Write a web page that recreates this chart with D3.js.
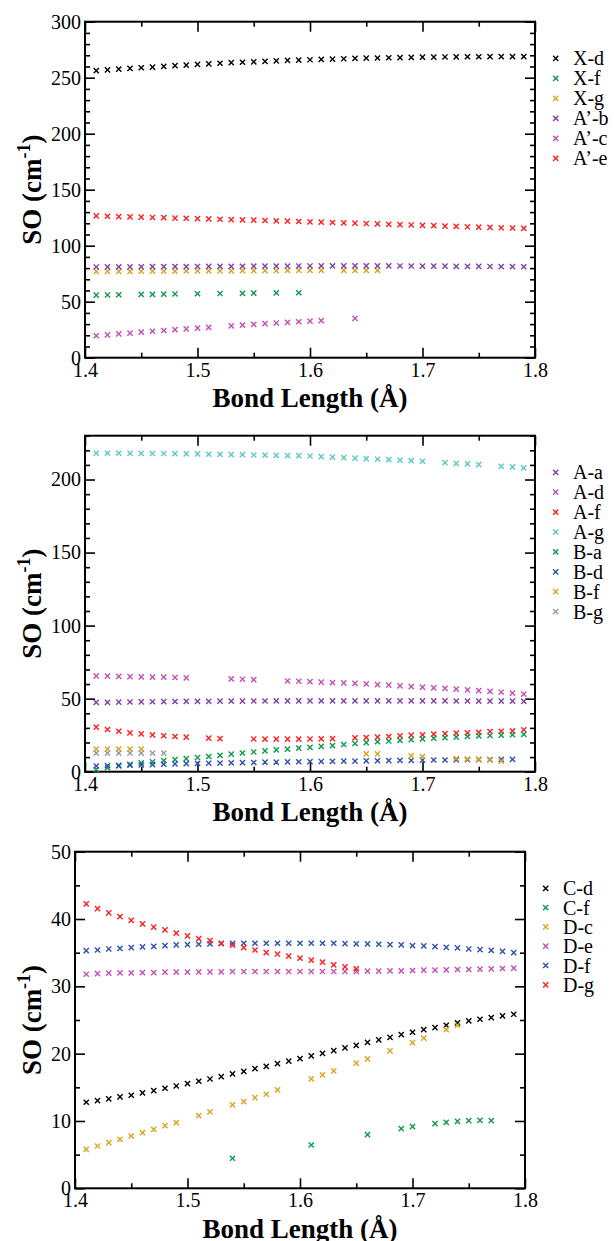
<!DOCTYPE html>
<html>
<head>
<meta charset="utf-8">
<script src="https://cdn.jsdelivr.net/npm/d3@7"></script>
<style>
  html, body { margin: 0; padding: 0; background: #fff; }
  svg { display: block; }
</style>
</head>
<body>
<script>
// ---------------- DATA ----------------
const bondLength = [1.41,1.42,1.43,1.44,1.45,1.46,1.47,1.48,1.49,1.50,
                    1.51,1.52,1.53,1.54,1.55,1.56,1.57,1.58,1.59,1.60,
                    1.61,1.62,1.63,1.64,1.65,1.66,1.67,1.68,1.69,1.70,
                    1.71,1.72,1.73,1.74,1.75,1.76,1.77,1.78,1.79];
const _ = null;

// Panel 1
const p1Names = ["X-d", "X-f", "X-g", "A\u2019-b", "A\u2019-c", "A\u2019-e"];
const p1Colors = ["#000000", "#0a9a48", "#d9a521", "#7f41a3", "#c24fb3", "#ff1e1e"];
const X_d = [256.3,257.0,257.7,258.3,258.9,259.5,260.1,260.7,261.3,261.9,
             262.4,262.9,263.4,263.8,264.2,264.6,265.0,265.4,265.7,266.0,
             266.3,266.6,266.9,267.2,267.4,267.6,267.8,268.0,268.2,268.3,
             268.4,268.5,268.6,268.7,268.7,268.8,268.8,268.8,268.8];
const X_f = [55.8,56.0,56.2,_,56.5,56.6,56.8,56.9,_,57.1,
             _,57.3,_,57.5,57.6,_,57.8,_,58.0,_,
             _,_,_,_,_,_,_,_,_,_,
             _,_,_,_,_,_,_,_,_];
const X_g = [77.0,77.05,77.1,77.15,77.2,77.25,77.3,77.35,77.4,77.45,
             77.5,77.55,77.6,77.65,77.7,77.75,77.8,77.85,77.9,77.95,
             78.0,_,78.0,78.0,78.0,78.0,_,_,_,_,
             _,_,_,_,_,_,_,_,_];
const Ap_b = [81.0,81.05,81.1,81.15,81.2,81.25,81.3,81.35,81.4,81.45,
              81.5,81.55,81.6,81.65,81.7,81.75,81.8,81.85,81.9,81.9,
              81.95,82.0,82.0,82.0,82.0,82.0,81.95,81.9,81.85,81.8,
              81.75,81.7,81.6,81.55,81.5,81.45,81.4,81.3,81.2];
const Ap_c = [19.6,20.4,21.2,22.0,22.8,23.6,24.3,25.0,25.7,26.4,
              27.0,_,28.4,29.1,29.8,30.4,31.0,31.6,32.1,32.6,
              33.1,_,_,35.1,_,_,_,_,_,_,
              _,_,_,_,_,_,_,_,_];
const Ap_e = [126.6,126.3,126.0,125.7,125.5,125.2,125.0,124.7,124.5,124.2,
              123.9,123.6,123.3,123.0,122.8,122.5,122.2,121.9,121.6,121.3,
              121.0,120.7,120.4,120.1,119.8,119.5,119.1,118.8,118.5,118.2,
              117.9,117.5,117.2,116.9,116.6,116.3,116.0,115.8,115.5];

// Panel 2
const p2Names = ["A-a", "A-d", "A-f", "A-g", "B-a", "B-d", "B-f", "B-g"];
const p2Colors = ["#7f41a3", "#c24fb3", "#ff1e1e", "#5cc9c1", "#0a9a48", "#2f4fb3", "#d9a521", "#9a9a9a"];
const A_a = [47.4,47.5,47.6,47.7,47.8,47.9,48.0,48.05,48.1,48.15,
             48.2,48.25,48.3,48.35,48.4,48.4,48.45,48.5,48.5,48.5,
             48.5,48.5,48.5,48.5,48.5,48.5,48.5,48.5,48.5,48.5,
             48.5,48.45,48.4,48.4,48.35,48.3,48.3,48.25,48.2];
const A_d = [65.6,65.4,65.2,65.1,64.9,64.8,64.7,64.5,64.2,_,
             _,_,63.5,63.3,63.0,_,_,62.1,61.9,61.6,
             61.3,61.0,60.8,60.5,60.1,59.6,59.2,58.8,58.3,57.9,
             57.4,57.0,56.5,56.0,55.5,55.0,54.4,53.8,53.1];
const A_f = [30.5,28.9,27.7,26.6,25.9,25.2,24.6,24.1,23.7,_,
             23.0,22.7,_,_,22.4,22.3,22.3,22.3,22.3,22.4,
             22.5,22.6,_,23.2,23.4,23.7,24.1,24.6,25.0,25.2,
             25.7,26.1,26.4,26.6,27.0,27.5,27.7,28.0,28.7];
const A_g = [218.0,218.0,218.0,217.9,217.9,217.8,217.8,217.7,217.6,217.5,
             217.3,217.2,217.1,217.0,216.8,216.7,216.5,216.4,216.3,216.1,
             215.7,215.3,215.0,214.6,214.3,213.9,213.6,213.2,212.9,212.5,
             _,211.6,211.1,210.7,210.2,_,209.1,208.6,208.0];
const B_a = [1.5,2.7,3.9,5.0,6.0,6.8,7.6,8.3,9.0,9.7,
             10.4,11.2,12.0,12.8,13.5,14.2,14.9,15.5,16.1,16.7,
             17.3,17.9,18.6,19.3,19.9,20.5,21.0,21.5,22.0,22.5,
             22.9,23.3,23.7,24.1,24.5,24.8,25.1,25.3,25.5];
const B_d = [3.9,4.1,4.3,4.5,4.7,4.9,5.1,5.3,5.5,5.6,
             5.8,5.9,6.1,6.2,6.3,6.5,6.6,6.7,6.8,6.9,
             7.0,7.1,7.2,7.3,7.4,7.5,7.6,7.7,7.8,7.9,
             8.0,8.0,8.1,8.2,8.3,8.3,8.4,8.5,_];
const B_f = [15.4,15.4,15.4,15.4,15.4,_,_,_,_,_,
             _,_,_,_,_,_,_,_,_,_,
             _,_,_,_,12.2,12.2,_,_,10.8,10.4,
             _,_,9.0,8.7,8.5,8.0,7.3,_,_];
const B_g = [12.7,12.7,12.7,12.7,12.7,12.7,12.7,_,_,_,
             _,_,_,_,_,_,_,_,_,_,
             _,_,_,_,_,_,_,_,_,_,
             _,_,_,_,_,_,_,_,_];

// Panel 3
const p3Names = ["C-d", "C-f", "D-c", "D-e", "D-f", "D-g"];
const p3Colors = ["#000000", "#0a9a48", "#d9a521", "#c24fb3", "#2f4fb3", "#ff1e1e"];
const C_d = [12.78,13.03,13.27,13.57,13.82,14.17,14.51,14.86,15.2,15.55,
             15.9,16.24,16.59,17.0,17.38,17.78,18.12,18.52,18.9,19.26,
             19.66,20.05,20.45,20.85,21.24,21.69,22.04,22.43,22.83,23.18,
             23.57,23.87,24.22,24.56,24.86,25.11,25.36,25.6,25.85];
const C_f = [_,_,_,_,_,_,_,_,_,_,
             _,_,_,4.46,_,_,_,_,_,_,
             6.43,_,_,_,_,7.97,_,_,8.86,9.16,
             _,9.6,9.8,9.95,10.05,10.1,10.05,_,_];
const D_c = [5.79,6.28,6.78,7.27,7.77,8.26,8.76,9.3,9.75,_,
             10.8,11.34,_,12.38,12.88,13.47,13.97,14.61,_,_,
             16.25,16.84,17.44,_,18.58,19.22,_,20.41,_,21.65,
             22.3,_,23.58,24.22,_,_,_,_,_];
const D_e = [31.8,31.9,31.95,32.0,32.0,32.05,32.05,32.1,32.1,32.1,
             32.15,32.15,32.15,32.2,32.2,32.2,32.2,32.2,32.2,32.2,
             32.2,32.2,32.2,32.2,32.2,32.25,32.25,32.3,32.3,32.35,
             32.4,32.4,32.45,32.5,32.5,32.55,32.6,32.65,32.7];
const D_f = [35.3,35.4,35.55,35.65,35.75,35.85,35.95,36.05,36.15,36.2,
             36.25,36.3,36.35,36.4,36.4,36.4,36.4,36.4,36.4,36.4,
             36.4,36.4,36.4,36.35,36.3,36.3,36.25,36.2,36.15,36.05,
             36.0,35.9,35.8,35.7,35.55,35.45,35.35,35.2,35.0];
const D_g = [42.24,41.55,40.9,40.36,39.8,39.27,38.8,38.4,37.9,37.5,
             37.1,36.8,36.4,36.1,35.75,35.4,35.0,34.8,34.5,34.2,
             33.9,33.6,33.2,32.9,32.6,_,_,_,_,_,
             _,_,_,_,_,_,_,_,_];

const xTicks = [1.4, 1.5, 1.6, 1.7, 1.8];
const xMinorTicks = [1.45, 1.55, 1.65, 1.75];

const panels = [
  { names: p1Names, colors: p1Colors, series: [X_d, X_f, X_g, Ap_b, Ap_c, Ap_e],
    yMax: 300, yMajor: [0,50,100,150,200,250,300], yMinorStep: 10,
    box: { left: 85, right: 535, top: 21.7, bottom: 357.7 }, legendStep: 20 },
  { names: p2Names, colors: p2Colors, series: [A_a, A_d, A_f, A_g, B_a, B_d, B_f, B_g],
    yMax: 230, yMajor: [0,50,100,150,200], yMinorStep: 10,
    box: { left: 85, right: 535, top: 435.7, bottom: 771.7 }, legendStep: 19.9 },
  { names: p3Names, colors: p3Colors, series: [C_d, C_f, D_c, D_e, D_f, D_g],
    yMax: 50, yMajor: [0,10,20,30,40,50], yMinorStep: 5,
    box: { left: 75, right: 525, top: 851.7, bottom: 1188.3 }, legendStep: 19.3 }
];

// ---------------- DRAW ----------------
const FONT = "'Liberation Serif', 'Times New Roman', 'DejaVu Serif', serif";
const W = 614, H = 1241;
const svg = d3.select("body").append("svg").attr("width", W).attr("height", H)
  .style("font-family", FONT);
const markerPath = "M-2.6,-2.6L2.6,2.6M-2.6,2.6L2.6,-2.6";

panels.forEach(p => {
  const b = p.box;
  const x = d3.scaleLinear().domain([1.4, 1.8]).range([b.left, b.right]);
  const y = d3.scaleLinear().domain([0, p.yMax]).range([b.bottom, b.top]);
  const g = svg.append("g");

  const yMinor = d3.range(0, p.yMax + 0.001, p.yMinorStep).filter(v => !p.yMajor.includes(v));

  function styleAxis(sel) {
    sel.attr("font-family", FONT).attr("font-size", 20);
    sel.select(".domain").remove();
    sel.selectAll(".tick line").attr("stroke", "#000").attr("stroke-width", 1.6);
    sel.selectAll("text").attr("fill", "#000")
      .style("font-family", FONT).style("font-size", "20px");
  }

  // bottom
  g.append("g").attr("transform", `translate(0,${b.bottom})`)
    .call(d3.axisBottom(x).tickValues(xTicks).tickFormat(d3.format(".1f")).tickSize(-10).tickPadding(5))
    .call(styleAxis);
  g.append("g").attr("transform", `translate(0,${b.bottom})`)
    .call(d3.axisBottom(x).tickValues(xMinorTicks).tickFormat("").tickSize(-5))
    .call(styleAxis);
  // top
  g.append("g").attr("transform", `translate(0,${b.top})`)
    .call(d3.axisTop(x).tickValues(xTicks).tickFormat("").tickSize(-10))
    .call(styleAxis);
  g.append("g").attr("transform", `translate(0,${b.top})`)
    .call(d3.axisTop(x).tickValues(xMinorTicks).tickFormat("").tickSize(-5))
    .call(styleAxis);
  // left
  g.append("g").attr("transform", `translate(${b.left},0)`)
    .call(d3.axisLeft(y).tickValues(p.yMajor).tickFormat(d3.format("d")).tickSize(-10).tickPadding(4))
    .call(styleAxis);
  g.append("g").attr("transform", `translate(${b.left},0)`)
    .call(d3.axisLeft(y).tickValues(yMinor).tickFormat("").tickSize(-5))
    .call(styleAxis);
  // right
  g.append("g").attr("transform", `translate(${b.right},0)`)
    .call(d3.axisRight(y).tickValues(p.yMajor).tickFormat("").tickSize(-10))
    .call(styleAxis);
  g.append("g").attr("transform", `translate(${b.right},0)`)
    .call(d3.axisRight(y).tickValues(yMinor).tickFormat("").tickSize(-5))
    .call(styleAxis);

  // frame
  g.append("rect").attr("x", b.left).attr("y", b.top)
    .attr("width", b.right - b.left).attr("height", b.bottom - b.top)
    .attr("fill", "none").attr("stroke", "#000").attr("stroke-width", 2);

  // series
  p.series.forEach((vals, si) => {
    const pts = bondLength.map((bl, i) => ({ bl, v: vals[i] })).filter(d => d.v !== null);
    g.append("g").selectAll("path").data(pts).join("path")
      .attr("d", markerPath)
      .attr("transform", d => `translate(${x(d.bl)},${y(d.v)})`)
      .attr("fill", "none").attr("stroke", p.colors[si]).attr("stroke-width", 1.4);
  });

  // legend
  const lg = g.append("g");
  p.names.forEach((name, i) => {
    const ly = b.top + 36.6 + i * p.legendStep;
    lg.append("path").attr("d", markerPath)
      .attr("transform", `translate(${b.right + 20.7},${ly})`)
      .attr("fill", "none").attr("stroke", p.colors[i]).attr("stroke-width", 1.4);
    lg.append("text").attr("x", b.right + 38).attr("y", ly + 7)
      .style("font-family", FONT).style("font-size", "20px").text(name);
  });

  // x title
  g.append("text").attr("x", (b.left + b.right) / 2).attr("y", b.bottom + 49.5)
    .attr("text-anchor", "middle").style("font-family", FONT)
    .style("font-size", "27px").style("font-weight", "bold")
    .text("Bond Length (\u00C5)");

  // y title
  const yt = g.append("text")
    .attr("transform", `translate(41,${(b.top + b.bottom) / 2}) rotate(-90)`)
    .attr("text-anchor", "middle").style("font-family", FONT)
    .style("font-size", "27px").style("font-weight", "bold");
  yt.append("tspan").text("SO (cm");
  yt.append("tspan").attr("dy", -11).style("font-size", "18px").text("-1");
  yt.append("tspan").attr("dy", 11).text(")");
});
</script>
</body>
</html>
